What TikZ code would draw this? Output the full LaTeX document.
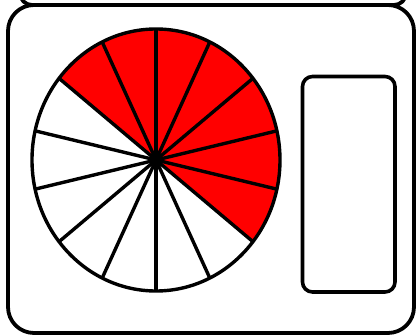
\documentclass[tikz,border=0pt]{standalone}
\usetikzlibrary{arrows.meta,positioning}
\definecolor{sectorred}{RGB}{255,0,0}
\begin{document}
\begin{tikzpicture}[x=1pt,y=1pt]

\tikzstyle{casing}=[
  draw=black,
  line width=3.8pt,
  rounded corners=26pt
]
\tikzstyle{panel}=[
  draw=black,
  line width=3.6pt,
  rounded corners=10pt
]
\tikzstyle{spoke}=[
  draw=black,
  line width=3.4pt
]

\clip (0,0) rectangle (416,335);

% Casing
\draw[casing, rounded corners=12pt] (20,330) rectangle (406,362);
\draw[casing] (8,330) rectangle (414,2);

% Side panel
\draw[panel] (302.5,258.5) rectangle (395,43);

% Wheel
\coordinate (hub) at (156,175);

\foreach \k in {0,1,9,10,11,12,13}
  \fill[sectorred] (hub) -- ++({90+\k*360/14}:124 and 131)
    arc[start angle={90+\k*360/14}, delta angle={360/14},
        x radius=124, y radius=131] -- cycle;

\foreach \k in {0,...,13}
  \draw[spoke] (hub) -- ++({90+\k*360/14}:124 and 131);

\draw[spoke] (hub) ellipse[x radius=124, y radius=131];

\end{tikzpicture}
\end{document}
